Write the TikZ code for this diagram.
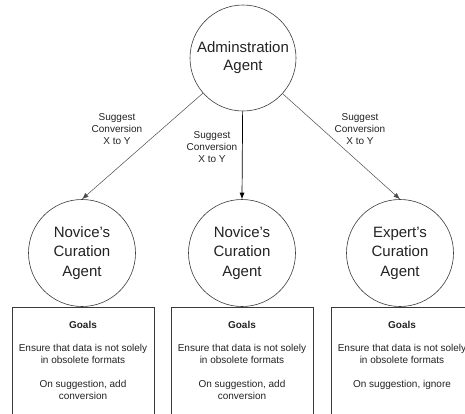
\documentclass[tikz,border=0pt]{standalone}
\usepackage{fontspec}
\setmainfont{Liberation Sans}
\usetikzlibrary{arrows.meta}
\definecolor{lineg}{HTML}{3A3A3A}
\definecolor{txt}{HTML}{222222}
\tikzset{
  agent/.style={circle, draw=lineg, line width=0.6pt, minimum size=106pt, inner sep=0pt, align=center, text=txt, font=\fontsize{15}{18}\selectfont},
  curagent/.style={circle, draw=lineg, line width=0.6pt, minimum size=107pt, inner sep=0pt, align=center, text=txt, font=\fontsize{15}{19.5}\selectfont},
  goalbox/.style={rectangle, draw=lineg, line width=0.6pt, minimum width=142pt, minimum height=130pt, anchor=north, inner sep=0pt},
  goaltext/.style={anchor=north, inner sep=0pt, align=center, text=txt, font=\fontsize{10}{12}\selectfont},
  msg/.style={align=center, inner sep=0pt, text=txt, font=\fontsize{10}{12}\selectfont},
  arr/.style={draw=black!70, line width=0.5pt, -{Latex[length=6.5pt,width=5pt]}},
  arrmid/.style={arr, draw=black, line width=0.7pt}
}
\begin{document}
\begin{tikzpicture}[x=1pt,y=-1pt]
\useasboundingbox (0,0) rectangle (465,413);
\clip (0,0) rectangle (465,413);
\node[agent] (adm) at (243,58) {Adminstration\\Agent};
\node[curagent] (n1) at (82,253) {Novice's\\Curation\\Agent};
\node[curagent] (n2) at (242,253) {Novice's\\Curation\\Agent};
\node[curagent] (ex) at (400,253) {Expert's\\Curation\\Agent};
\node[goalbox] (b1) at (83,307) {};
\node[goalbox] (b2) at (242,307) {};
\node[goalbox] (b3) at (402,307) {};
\node[goaltext, yshift=-14pt] (g1) at (b1.north) {\textbf{Goals}\\[11pt]Ensure that data is not solely\\in obsolete formats\\[12pt]On suggestion, add\\conversion};
\node[goaltext, yshift=-14pt] (g2) at (b2.north) {\textbf{Goals}\\[11pt]Ensure that data is not solely\\in obsolete formats\\[12pt]On suggestion, add\\conversion};
\node[goaltext, yshift=-14pt] (g3) at (b3.north) {\textbf{Goals}\\[11pt]Ensure that data is not solely\\in obsolete formats\\[12pt]On suggestion, ignore};
\draw[arr] (adm) -- (n1.north);
\draw[arrmid] (adm) -- (n2.north);
\draw[arr] (adm) -- (ex.north);
\node[msg] (m1) at (117,129) {Suggest\\Conversion\\X to Y};
\node[msg] (m2) at (212,147) {Suggest\\Conversion\\X to Y};
\node[msg] (m3) at (360,129) {Suggest\\Conversion\\X to Y};
\end{tikzpicture}
\end{document}
